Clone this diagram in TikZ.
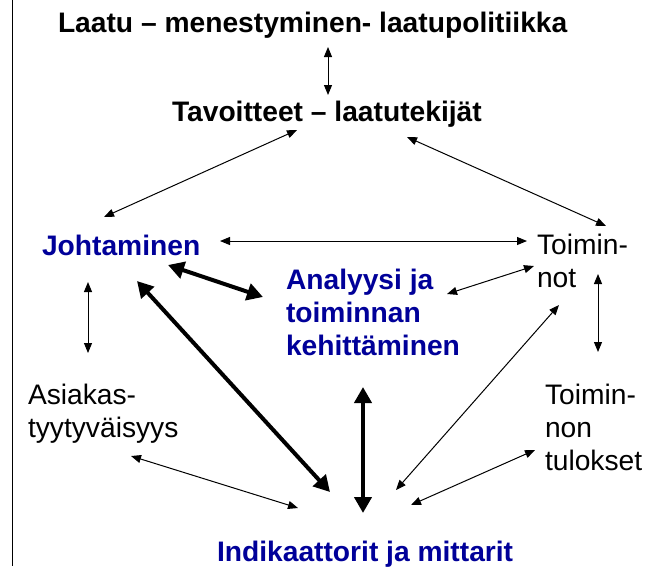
\documentclass[tikz,border=0pt]{standalone}
\usepackage{fontspec}
\setmainfont{Liberation Sans}
\usetikzlibrary{arrows.meta}
\definecolor{titleblue}{RGB}{0,0,153}
\tikzset{
  lbl/.style={anchor=base west, inner sep=0pt, outer sep=0pt,
    font=\fontsize{28.2pt}{33pt}\selectfont, align=left},
  boldlbl/.style={lbl, font=\fontsize{28.2pt}{33pt}\selectfont\bfseries},
  bluelbl/.style={boldlbl, text=titleblue},
  thinarrow/.style={line width=1pt, {Triangle[length=10pt,width=8pt]}-{Triangle[length=10pt,width=8pt]}},
  thickarrow/.style={line width=4pt, {Triangle[length=16pt,width=17pt]}-{Triangle[length=16pt,width=17pt]}}
}
\begin{document}
\begin{tikzpicture}[x=1pt,y=-1pt]
\useasboundingbox (0,0) rectangle (658,566);
\coordinate (lineTop) at (12.5,0);
\coordinate (lineBot) at (12.5,566);
\draw[line width=1.3pt] (lineTop) -- (lineBot);

% texts (multi-line nodes: base = baseline of last line)
\node[boldlbl] (title) at (58,32) {Laatu -- menestyminen- laatupolitiikka};
\node[boldlbl] (tav) at (172,121) {Tavoitteet -- laatutekijät};
\node[bluelbl] (joh) at (42,255) {Johtaminen};
\node[lbl] (toim) at (537,287) {Toimin-\\not};
\node[bluelbl] (ana) at (286,355) {Analyysi ja\\toiminnan\\kehittäminen};
\node[lbl] (asi) at (28,437) {Asiakas-\\tyytyväisyys};
\node[lbl] (tul) at (545,470) {Toimin-\\non\\tulokset};
\node[bluelbl] (ind) at (217,561) {Indikaattorit ja mittarit};

% connector end points
\coordinate (titleS) at (328,47);
\coordinate (tavN) at (328,95);
\coordinate (tavSW) at (297,130);
\coordinate (johNE) at (104,217);
\coordinate (tavSE) at (407,137);
\coordinate (toimNW) at (606,226);
\coordinate (johE) at (220,241);
\coordinate (toimW) at (527,241);
\coordinate (johSE) at (168,265);
\coordinate (anaNW) at (263,297);
\coordinate (anaNE) at (447,294);
\coordinate (toimSW) at (534,266);
\coordinate (toimS) at (598,274);
\coordinate (tulN) at (598,352);
\coordinate (johS) at (88,282);
\coordinate (asiN) at (88,353);
\coordinate (johSS) at (137,281);
\coordinate (indNW) at (330,492);
\coordinate (anaS) at (363,387);
\coordinate (indN) at (363,513);
\coordinate (toimSS) at (559,305);
\coordinate (indNE) at (396,490);
\coordinate (tulW) at (535,450);
\coordinate (indE) at (411,505);
\coordinate (asiSE) at (131,456);
\coordinate (indW) at (298,508);

% connectors
\draw[thinarrow] (titleS) -- (tavN);
\draw[thinarrow] (tavSW) -- (johNE);
\draw[thinarrow] (tavSE) -- (toimNW);
\draw[thinarrow] (johE) -- (toimW);
\draw[thickarrow] (johSE) -- (anaNW);
\draw[thinarrow] (anaNE) -- (toimSW);
\draw[thinarrow] (toimS) -- (tulN);
\draw[thinarrow] (johS) -- (asiN);
\draw[thickarrow] (johSS) -- (indNW);
\draw[thickarrow] (anaS) -- (indN);
\draw[thinarrow] (toimSS) -- (indNE);
\draw[thinarrow] (tulW) -- (indE);
\draw[thinarrow] (asiSE) -- (indW);
\end{tikzpicture}
\end{document}
